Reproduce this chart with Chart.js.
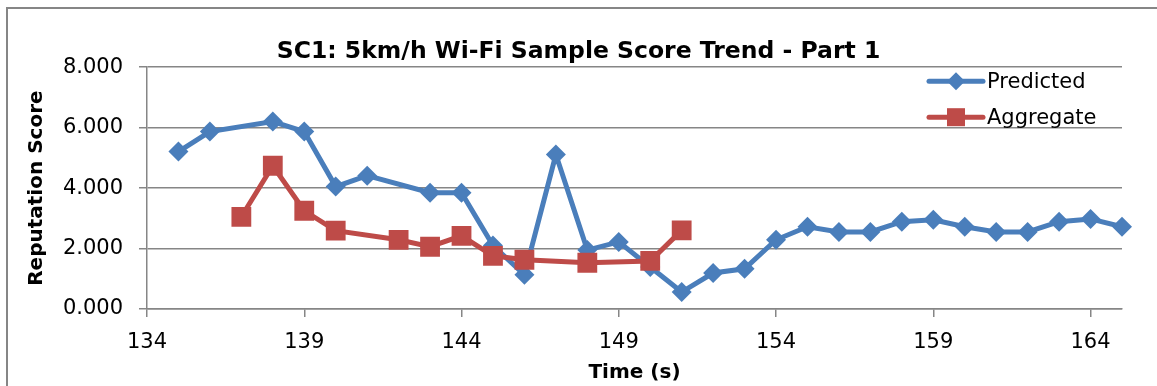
<!DOCTYPE html>
<html>
<head>
<meta charset="utf-8">
<script src="https://cdn.jsdelivr.net/npm/chart.js@4.4.0/dist/chart.umd.min.js"></script>
<style>
  html, body { margin: 0; padding: 0; background: #fff; overflow: hidden; }
  #wrap { position: relative; width: 1157px; height: 386px; overflow: hidden; }
  #frame { position: absolute; left: 6px; top: 7px; width: 1300px; height: 500px;
           border-left: 2px solid #868686; border-top: 2px solid #868686; pointer-events: none; }
  canvas { display: block; }
</style>
</head>
<body>
<div id="wrap"><canvas id="myChart" width="1157" height="386"></canvas><div id="frame"></div></div>
<script>
var predictedTime = [135, 136, 138, 139, 140, 141, 143, 144, 145, 146, 147, 148, 149, 150, 151, 152, 153, 154, 155, 156, 157, 158, 159, 160, 161, 162, 163, 164, 165];
var predictedScore = [5.21, 5.87, 6.20, 5.87, 4.05, 4.41, 3.85, 3.85, 2.10, 1.13, 5.11, 1.95, 2.22, 1.39, 0.56, 1.19, 1.33, 2.29, 2.72, 2.55, 2.55, 2.89, 2.95, 2.72, 2.55, 2.55, 2.89, 2.98, 2.72];

var aggregateTime = [137, 138, 139, 140, 142, 143, 144, 145, 146, 148, 150, 151];
var aggregateScore = [3.05, 4.74, 3.25, 2.59, 2.29, 2.06, 2.42, 1.76, 1.63, 1.53, 1.59, 2.60];

var xTicks = [134, 139, 144, 149, 154, 159, 164];
var yTicks = [0, 2, 4, 6, 8];

var blue = '#4A7EBB';
var red = '#BE4B48';
var gridGrey = '#868686';
var fontName = 'DejaVu Sans';

function toPoints(xs, ys) {
    return xs.map(function(x, i) { return { x: x, y: ys[i] }; });
}

// legend drawn inside the plot, top right
var insideLegend = {
    id: 'insideLegend',
    afterDraw: function(chart) {
        var ctx = chart.ctx;
        var area = chart.chartArea;
        var x0 = area.right - 193;
        var rows = [area.top + 14, area.top + 50];
        ctx.save();
        chart.data.datasets.forEach(function(ds, i) {
            var y = rows[i];
            ctx.strokeStyle = ds.borderColor;
            ctx.lineWidth = 5;
            ctx.lineCap = 'round';
            ctx.beginPath();
            ctx.moveTo(x0, y);
            ctx.lineTo(x0 + 54, y);
            ctx.stroke();
            ctx.fillStyle = ds.pointBackgroundColor;
            var cx = x0 + 27;
            if (ds.pointStyle === 'rectRot') {
                ctx.beginPath();
                ctx.moveTo(cx, y - 9);
                ctx.lineTo(cx + 9, y);
                ctx.lineTo(cx, y + 9);
                ctx.lineTo(cx - 9, y);
                ctx.closePath();
                ctx.fill();
            } else {
                ctx.fillRect(cx - 9, y - 9, 18, 18);
            }
            ctx.fillStyle = '#000';
            ctx.font = '21px ' + fontName;
            ctx.textBaseline = 'middle';
            ctx.textAlign = 'left';
            ctx.fillText(ds.label, x0 + 58, y + 1);
        });
        ctx.restore();
    }
};

var ctx = document.getElementById('myChart').getContext('2d');
var chart = new Chart(ctx, {
    type: 'line',
    data: {
        datasets: [{
            label: 'Predicted',
            data: toPoints(predictedTime, predictedScore),
            borderColor: blue,
            backgroundColor: blue,
            pointBackgroundColor: blue,
            pointBorderColor: blue,
            borderWidth: 5,
            pointStyle: 'rectRot',
            pointRadius: 10,
            pointBorderWidth: 0,
            clip: { left: 20, top: 20, right: 20, bottom: 20 },
            order: 2
        }, {
            label: 'Aggregate',
            data: toPoints(aggregateTime, aggregateScore),
            borderColor: red,
            backgroundColor: red,
            pointBackgroundColor: red,
            pointBorderColor: red,
            borderWidth: 5,
            pointStyle: 'rect',
            pointRadius: 14,
            pointBorderWidth: 0,
            clip: { left: 20, top: 20, right: 20, bottom: 20 },
            order: 1
        }]
    },
    options: {
        responsive: false,
        animation: false,
        devicePixelRatio: 1,
        layout: {
            padding: 0
        },
        plugins: {
            legend: { display: false },
            tooltip: { enabled: false },
            title: {
                display: true,
                text: 'SC1: 5km/h Wi-Fi Sample Score Trend - Part 1',
                color: '#000',
                font: { family: fontName, size: 23.5, weight: 'bold' },
                padding: { top: 38, bottom: 1 }
            }
        },
        scales: {
            x: {
                type: 'linear',
                min: 134,
                max: 165,
                afterBuildTicks: function(scale) {
                    scale.ticks = xTicks.map(function(v) { return { value: v }; });
                },
                afterFit: function(scale) { scale.height = 77; },
                ticks: {
                    color: '#000',
                    font: { family: fontName, size: 21 },
                    padding: 13,
                    maxRotation: 0,
                    callback: function(v) { return String(v); }
                },
                grid: {
                    drawOnChartArea: false,
                    color: gridGrey,
                    lineWidth: 1.5,
                    tickLength: 8
                },
                border: { color: gridGrey, width: 1.5 },
                title: {
                    display: true,
                    text: 'Time (s)',
                    color: '#000',
                    font: { family: fontName, size: 20, weight: 'bold' },
                    padding: { top: 0, bottom: 1 }
                }
            },
            y: {
                min: 0,
                max: 8,
                afterBuildTicks: function(scale) {
                    scale.ticks = yTicks.map(function(v) { return { value: v }; });
                },
                afterFit: function(scale) { scale.width = 147; },
                ticks: {
                    color: '#000',
                    font: { family: fontName, size: 21 },
                    padding: 16,
                    callback: function(v) { return v.toFixed(3); }
                },
                grid: {
                    color: gridGrey,
                    lineWidth: 1.5,
                    tickLength: 8
                },
                border: { color: gridGrey, width: 1.5 },
                title: {
                    display: true,
                    text: 'Reputation Score',
                    color: '#000',
                    font: { family: fontName, size: 20, weight: 'bold' },
                    padding: { top: 25, bottom: 0 }
                }
            },
            // empty right-hand strip so the title stays centred on the whole picture
            rightGap: {
                position: 'right',
                display: true,
                afterFit: function(scale) { scale.width = 35; },
                ticks: { display: false },
                grid: { display: false },
                border: { display: false }
            }
        }
    },
    plugins: [insideLegend]
});
</script>
</body>
</html>
